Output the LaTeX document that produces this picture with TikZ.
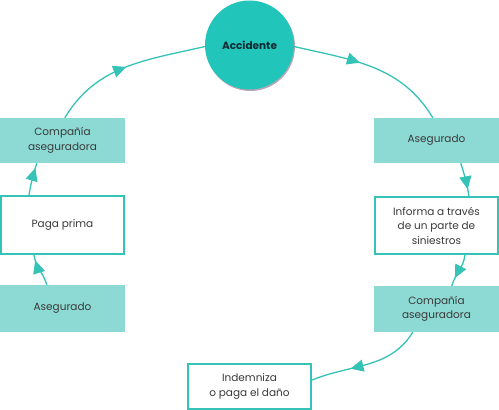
\documentclass[tikz,border=0pt]{standalone}
\usepackage{fontspec}
\setmainfont{Poppins}
\usetikzlibrary{arrows.meta,decorations.markings,calc,shadows}
\definecolor{teal1}{HTML}{22C5BA}
\definecolor{tealbox}{HTML}{8DD9D3}
\definecolor{tealline}{HTML}{35C2B7}
\definecolor{txt}{HTML}{3A3A3A}
\definecolor{acctxt}{HTML}{0F2A33}
\begin{document}
\begin{tikzpicture}[x=1pt,y=1pt,
  font=\fontsize{10.5}{14.5}\selectfont,
  every node/.style={text=txt, align=center, inner sep=0pt},
  shaded/.style={fill=tealbox, minimum width=125pt},
  plain/.style={fill=white, draw=tealline, line width=1.6pt, minimum width=123.5pt},
  conn/.style={draw=tealline, line width=1.3pt, postaction={decorate},
    decoration={markings, mark=at position #1 with {\arrow[tealline]{Triangle[length=13pt,width=12pt]}}}},
  conn/.default=0.5
]
\useasboundingbox (0,0) rectangle (499,410);
% nodes
\node[circle, fill=teal1, minimum size=89pt, text=acctxt, font=\fontsize{10.5}{14.5}\selectfont\bfseries,
  drop shadow={shadow xshift=1pt, shadow yshift=-1.5pt, opacity=0.35, fill=black!60!violet}] (acc) at (249.5,365) {Accidente};
\node[shaded, minimum height=45pt] (cl) at (62.5,269.5) {Compañía\\aseguradora};
\node[plain, minimum height=57.5pt] (pp) at (62.5,185) {Paga prima};
\node[shaded, minimum height=47pt] (la) at (62.5,101.5) {Asegurado};
\node[shaded, minimum height=45pt] (ra) at (436.5,269.5) {Asegurado};
\node[plain, minimum height=57.5pt] (inf) at (436.5,184.5) {Informa a través\\de un parte de\\siniestros};
\node[shaded, minimum height=46pt] (rc) at (436.5,101) {Compañía\\aseguradora};
\node[plain, minimum height=45.5pt] (ind) at (249.5,23.5) {Indemniza\\o paga el daño};
% connectors
\draw[conn=0.5] ($(cl.north west)+(65,0)$) to[out=59,in=193] (acc.182);
\draw[conn=0.42] (acc.-2) to[out=-13,in=121] ($(ra.north west)+(59,0)$);
\draw[conn=0.8] ($(ra.south west)+(87,0)$) to[out=-73,in=99] ($(inf.north west)+(95,0)$);
\draw[conn=0.75] ($(inf.south west)+(91,0)$) to[out=-97,in=74] ($(rc.north west)+(78,0)$);
\draw[conn=0.65] ($(rc.south west)+(39,0)$) to[out=-122,in=22] ($(ind.east)+(0,6.5)$);
\draw[conn=0.82] ($(la.north west)+(47,0)$) to[out=106,in=277] ($(pp.south west)+(34,0)$);
\draw[conn=0.85] ($(pp.north west)+(29,0)$) to[out=81,in=253] ($(cl.south west)+(37,0)$);
\end{tikzpicture}
\end{document}
